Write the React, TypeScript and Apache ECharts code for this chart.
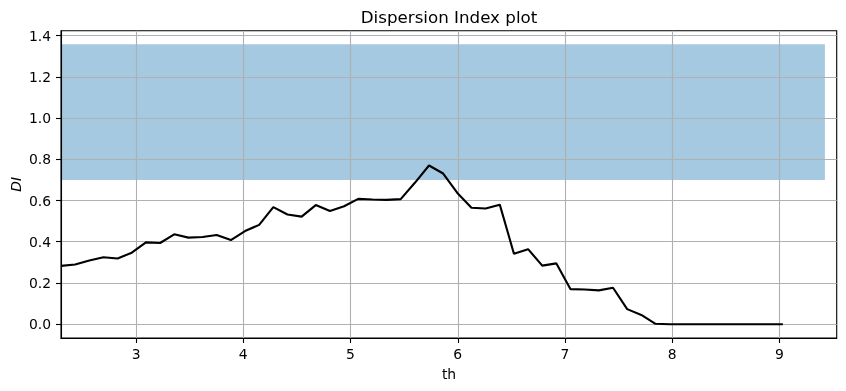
import React, { useEffect, useRef } from "react";
import * as echarts from "echarts";

const thValues = [
  2.3, 2.432, 2.564, 2.696, 2.828, 2.96, 3.092, 3.224, 3.356, 3.488, 3.62, 3.752, 3.884,
  4.016, 4.148, 4.28, 4.412, 4.544, 4.676, 4.808, 4.94, 5.072, 5.204, 5.336, 5.468, 5.6,
  5.732, 5.864, 5.996, 6.128, 6.26, 6.392, 6.524, 6.656, 6.788, 6.92, 7.052, 7.184, 7.316,
  7.448, 7.58, 7.712, 7.844, 7.976, 8.108, 8.24, 8.372, 8.504, 8.636, 8.768, 8.9, 9.032,
];
const diValues = [
  0.283, 0.29, 0.309, 0.325, 0.319, 0.347, 0.397, 0.394, 0.436, 0.42, 0.423, 0.433, 0.408,
  0.452, 0.482, 0.568, 0.532, 0.522, 0.578, 0.549, 0.572, 0.608, 0.605, 0.603, 0.607, 0.686,
  0.77, 0.731, 0.637, 0.565, 0.561, 0.58, 0.342, 0.364, 0.284, 0.295, 0.17, 0.168, 0.164,
  0.177, 0.073, 0.045, 0.002, 0, 0, 0, 0, 0, 0, 0, 0, 0,
];
const bandX = [2.3, 9.424];
const bandY = [0.7, 1.358];
const xTicks = [3, 4, 5, 6, 7, 8, 9];
const yTicks = [0, 0.2, 0.4, 0.6, 0.8, 1.0, 1.2, 1.4];

const FONT = "DejaVu Sans";

export default function App() {
  const ref = useRef<HTMLDivElement>(null);
  useEffect(() => {
    const chart = echarts.init(ref.current!, null, { renderer: "svg" });
    chart.setOption({
      animation: false,
      grid: {
        left: 61,
        right: 9.3,
        top: 30.7,
        bottom: 53,
        show: true,
        borderColor: "#000",
        borderWidth: 1.1,
        backgroundColor: "transparent",
      },
      xAxis: {
        type: "value",
        min: 2.3,
        max: 9.534,
        axisLine: { show: true, onZero: false, lineStyle: { color: "#000", width: 1.1 } },
        axisTick: { show: true, length: 5, lineStyle: { color: "#000", width: 1.1 }, customValues: xTicks },
        axisLabel: {
          customValues: xTicks,
          margin: 9,
          fontSize: 13.9,
          fontFamily: FONT,
          color: "#000",
          formatter: (v: number) => String(v),
        },
        splitLine: { show: true, lineStyle: { color: "#b0b0b0", width: 1.1 } },
      },
      yAxis: {
        type: "value",
        min: -0.067,
        max: 1.424,
        axisLine: { show: true, onZero: false, lineStyle: { color: "#000", width: 1.1 } },
        axisTick: { show: true, length: 5, lineStyle: { color: "#000", width: 1.1 }, customValues: yTicks },
        axisLabel: {
          customValues: yTicks,
          margin: 10,
          fontSize: 13.9,
          fontFamily: FONT,
          color: "#000",
          formatter: (v: number) => v.toFixed(1),
        },
        splitLine: { show: true, lineStyle: { color: "#b0b0b0", width: 1.1 } },
      },
      series: [
        {
          type: "custom",
          z: -1,
          silent: true,
          data: [[bandX[0], bandY[0], bandX[1], bandY[1]]],
          renderItem: (params: any, api: any) => {
            const p0 = api.coord([api.value(0), api.value(3)]);
            const p1 = api.coord([api.value(2), api.value(1)]);
            return {
              type: "rect",
              shape: { x: p0[0], y: p0[1], width: p1[0] - p0[0], height: p1[1] - p0[1] },
              style: { fill: "#a5c9e1" },
            };
          },
        },
        {
          type: "line",
          z: 3,
          symbol: "none",
          showSymbol: false,
          data: thValues.map((x, i) => [x, diValues[i]]),
          lineStyle: { color: "#000", width: 2.1 },
        },
      ],
      graphic: [
        {
          type: "text",
          x: 449,
          y: 16.9,
          style: {
            text: "Dispersion Index plot",
            fontSize: 16.7,
            fontFamily: FONT,
            fill: "#000",
            align: "center",
            verticalAlign: "middle",
          },
        },
        {
          type: "text",
          x: 449,
          y: 374.2,
          style: {
            text: "th",
            fontSize: 13.9,
            fontFamily: FONT,
            fill: "#000",
            align: "center",
            verticalAlign: "middle",
          },
        },
        {
          type: "text",
          x: 15.9,
          y: 184.3,
          rotation: Math.PI / 2,
          style: {
            text: "DI",
            fontSize: 13.9,
            fontFamily: FONT,
            fontStyle: "italic",
            fill: "#000",
            align: "center",
            verticalAlign: "middle",
          },
        },
      ],
    });
    return () => chart.dispose();
  }, []);
  return <div ref={ref} style={{ position: "fixed", left: 0, top: 0, width: 846, height: 391 }} />;
}
